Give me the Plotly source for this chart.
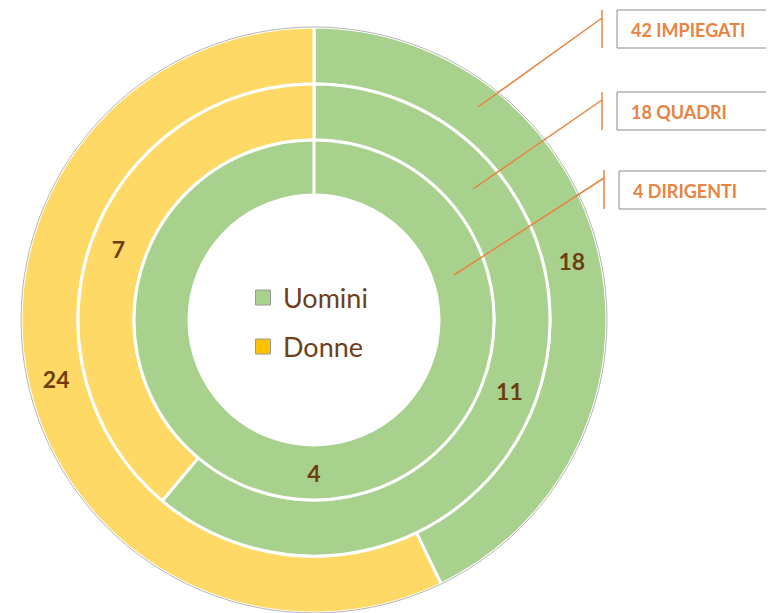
import plotly.graph_objects as go

# ---- data ----
groups = ["IMPIEGATI", "QUADRI", "DIRIGENTI"]
series = ["Uomini", "Donne"]
uomini = [18, 11, 4]
donne = [24, 7, 0]

# ---- style ----
OFF = 8                      # default page margin of the html body
W, H = 774 - OFF, 613 - OFF  # figure size
colors = ["#A9D18E", "#FFD966"]
legend_colors = ["#A9D18E", "#FFC000"]
label_color = "#6E3D12"
orange = "#E8843F"
FONT = "Lato"

# geometry given in page pixels
cx_page, cy_page = 314, 320
radii = [293, 236, 180]     # outer radius of each ring
inner_hole = 125


def px(x):
    return (x - OFF) / W


def py(y):
    return (H - (y - OFF)) / H


def dom(R):
    return dict(x=[px(cx_page - R), px(cx_page + R)],
                y=[max(0.0, py(cy_page + R)), py(cy_page - R)])


fig = go.Figure()

for i, g in enumerate(groups):
    R = radii[i]
    r_in = radii[i + 1] if i + 1 < len(radii) else inner_hole
    fig.add_trace(go.Pie(
        labels=series,
        values=[uomini[i], donne[i]],
        sort=False,
        direction="clockwise",
        rotation=0,
        hole=r_in / R,
        domain=dom(R),
        marker=dict(colors=colors, line=dict(color="white", width=3)),
        textinfo="value",
        textposition="inside",
        insidetextorientation="horizontal",
        textfont=dict(family=FONT, size=23, color=label_color, weight="bold"),
        showlegend=False,
        hoverinfo="skip",
        name=g,
    ))

# legend entries (one legend per series, placed in the hole)
for k, s in enumerate(series):
    fig.add_trace(go.Scatter(
        x=[None], y=[None], mode="markers", name=s,
        marker=dict(symbol="square", size=15, color=legend_colors[k],
                    line=dict(color="#9a9a9a", width=1)),
        legend="legend" if k == 0 else "legend2",
        showlegend=True, hoverinfo="skip",
    ))

# callout boxes and leader lines (page pixels)
boxes = [(617, 10, 48), (617, 92, 130), (619, 171, 209)]
leaders = [((602, 10, 48), (602, 18), (478, 107)),
           ((602, 92, 130), (602, 100), (473, 189)),
           ((604, 170, 209), (604, 178), (454, 275))]

shapes = []
annotations = []
for i, g in enumerate(groups):
    bx, by0, by1 = boxes[i]
    shapes.append(dict(type="rect", xref="paper", yref="paper",
                       x0=px(bx), x1=px(800), y0=py(by1), y1=py(by0),
                       line=dict(color="#8c8c8c", width=1), fillcolor="white"))
    (vx, vy0, vy1), (ax0, ay0), (ax1, ay1) = leaders[i]
    shapes.append(dict(type="line", xref="paper", yref="paper",
                       x0=px(vx), x1=px(vx), y0=py(vy0), y1=py(vy1),
                       line=dict(color=orange, width=1.5)))
    shapes.append(dict(type="line", xref="paper", yref="paper",
                       x0=px(ax0), x1=px(ax1), y0=py(ay0), y1=py(ay1),
                       line=dict(color=orange, width=1.5)))
    annotations.append(dict(
        text=f"{uomini[i] + donne[i]} {g}", xref="paper", yref="paper",
        x=px(bx + 12), y=py((by0 + by1) / 2 + 1), xanchor="left", yanchor="middle",
        showarrow=False,
        font=dict(family=FONT, size=18, color=orange, weight="bold")))

# faint outline of the outer ring
R0 = radii[0]
shapes.append(dict(type="circle", xref="paper", yref="paper", layer="above",
                   x0=px(cx_page - R0), x1=px(cx_page + R0),
                   y0=py(cy_page + R0), y1=py(cy_page - R0),
                   line=dict(color="rgba(110,110,110,0.5)", width=1)))

legend_font = dict(family=FONT, size=27, color="#6E3F1C")
fig.update_layout(
    width=W, height=H,
    margin=dict(l=0, r=0, t=0, b=0),
    paper_bgcolor="white", plot_bgcolor="white",
    xaxis=dict(visible=False), yaxis=dict(visible=False),
    legend=dict(x=px(243), y=py(298), xanchor="left", yanchor="middle",
                font=legend_font, bgcolor="rgba(0,0,0,0)", itemclick=False),
    legend2=dict(x=px(243), y=py(347), xanchor="left", yanchor="middle",
                 font=legend_font, bgcolor="rgba(0,0,0,0)", itemclick=False),
    shapes=shapes,
    annotations=annotations,
)

fig.write_html("out.html")
